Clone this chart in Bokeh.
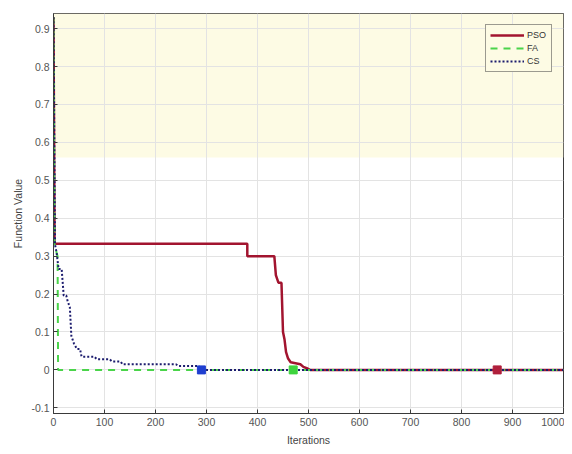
from bokeh.plotting import figure
from bokeh.models import Range1d, Legend, LegendItem, BoxAnnotation, FixedTicker
from bokeh.embed import file_html
from bokeh.resources import INLINE

# ---- data ----
pso_x = [0, 2, 380, 380, 433, 436, 441, 447, 450, 453, 456, 460, 465, 484, 490, 499, 503, 1000]
pso_y = [0.93, 0.333, 0.333, 0.30, 0.30, 0.25, 0.23, 0.23, 0.10, 0.08, 0.047, 0.03, 0.02, 0.015, 0.008, 0.003, 0.0, 0.0]

fa_x = [0, 2, 8, 9, 1000]
fa_y = [0.93, 0.33, 0.30, 0.0, 0.0]

cs_x = [0, 3, 6, 10, 16, 20, 25, 28, 32, 35, 40, 46, 52, 55, 80, 85, 110, 115, 132, 135, 240, 245, 285, 290, 300, 1000]
cs_y = [0.93, 0.33, 0.31, 0.266, 0.266, 0.196, 0.196, 0.18, 0.166, 0.09, 0.07, 0.055, 0.055, 0.035, 0.035, 0.028, 0.028, 0.022, 0.022, 0.015, 0.015, 0.010, 0.010, 0.004, 0.0, 0.0]

marker_x = {"PSO": 870, "FA": 470, "CS": 290}
marker_y = 0.0

x_ticks = list(range(0, 1001, 100))
y_ticks = [-0.1, 0, 0.1, 0.2, 0.3, 0.4, 0.5, 0.6, 0.7, 0.8, 0.9]
y_tick_labels = {-0.1: "-0.1", 0: "0", 0.1: "0.1", 0.2: "0.2", 0.3: "0.3", 0.4: "0.4",
                 0.5: "0.5", 0.6: "0.6", 0.7: "0.7", 0.8: "0.8", 0.9: "0.9"}

# ---- figure ----
p = figure(width=564, height=448, output_backend="svg", toolbar_location=None,
           x_range=Range1d(0, 1000), y_range=Range1d(-0.115, 0.94),
           min_border_left=53, min_border_right=1, min_border_top=13, min_border_bottom=33)
p.background_fill_color = "white"
p.border_fill_color = "white"
p.outline_line_color = "#3a3a3a"
p.outline_line_width = 1

p.add_layout(BoxAnnotation(bottom=0.56, fill_color="#fdfbe4", fill_alpha=1, line_alpha=0, level="image"))

p.xgrid.grid_line_color = "#e3e3e3"
p.ygrid.grid_line_color = "#e3e3e3"

for ax in (p.xaxis[0], p.yaxis[0]):
    ax.axis_line_color = "#3a3a3a"
    ax.major_tick_in = 4
    ax.major_tick_out = 0
    ax.minor_tick_line_color = None
    ax.major_tick_line_color = "#3a3a3a"
    ax.major_label_text_font = "Liberation Sans"
    ax.major_label_text_font_size = "10.5px"
    ax.major_label_text_color = "#555555"
    ax.axis_label_text_font = "Liberation Sans"
    ax.axis_label_text_font_size = "10.5px"
    ax.axis_label_text_font_style = "normal"
    ax.axis_label_text_color = "#444444"

p.xaxis.ticker = FixedTicker(ticks=x_ticks)
p.yaxis.ticker = FixedTicker(ticks=y_ticks)
p.yaxis.major_label_overrides = y_tick_labels
p.xaxis.axis_label = "Iterations"
p.yaxis.axis_label = "Function Value"
p.xaxis.axis_label_standoff = 5
p.yaxis.axis_label_standoff = 4
p.xaxis.major_label_standoff = 4
p.yaxis.major_label_standoff = 4

r_pso = p.line(pso_x, pso_y, line_color="#a2142f", line_width=2.5)
r_fa = p.line(fa_x, fa_y, line_color="#4ad44a", line_width=2, line_dash="7 6")
r_cs = p.line(cs_x, cs_y, line_color="#1c1c6e", line_width=2, line_dash="2 2")

p.scatter([marker_x["CS"]], [marker_y], marker="square", size=8, fill_color="#1f3fd0", line_color="#1f3fd0")
p.scatter([marker_x["FA"]], [marker_y], marker="square", size=8, fill_color="#3ed43e", line_color="#3ed43e")
p.scatter([marker_x["PSO"]], [marker_y], marker="square", size=8, fill_color="#b01f3c", line_color="#b01f3c")

legend = Legend(items=[LegendItem(label="PSO", renderers=[r_pso]),
                       LegendItem(label="FA", renderers=[r_fa]),
                       LegendItem(label="CS", renderers=[r_cs])],
                location="top_right")
legend.margin = 11
legend.padding = 4
legend.spacing = 1
legend.label_height = 12
legend.glyph_height = 12
legend.glyph_width = 34
legend.label_standoff = 3
legend.label_text_font = "Liberation Sans"
legend.label_text_font_size = "9px"
legend.label_text_color = "#333333"
legend.border_line_color = "#3a3a3a"
legend.background_fill_color = "#fdfbe4"
legend.background_fill_alpha = 1
p.add_layout(legend)

open("out.html", "w").write(file_html(p, INLINE))
